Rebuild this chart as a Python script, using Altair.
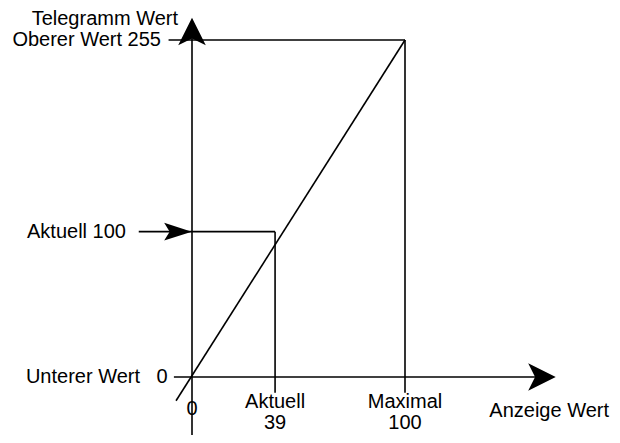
import altair as alt
import pandas as pd

# ---- values read from the schematic ----
# x: Anzeige Wert, y: Telegramm Wert
x_marks = [0, 39, 100]
x_top_labels = ["Aktuell", "Maximal"]
x_bottom_labels = ["39", "100"]

y_levels = [0, 110, 255]          # drawn heights of the levels (0 .. 255 scale)
y_names = ["Unterer Wert", "Aktuell 100", "Oberer Wert 255"]

# straight segments of the drawing: (x, y) -> (x2, y2)
seg_x  = [-11, 100, -25, 39, -8.5, 0, -7.5]
seg_y  = [255, 255, 110, 110, 0, -43.8, -18]
seg_x2 = [100, 100, 39, 39, 164, 0, 100]
seg_y2 = [255, -12, 110, -12, 0, 261, 255]

# arrow heads
arrow_dir = ["right", "up", "pointer"]
arrow_x = [164.3, 0, -6.6]
arrow_y = [0, 261.4, 110]

FONT = "Liberation Sans"
FS = 20

xs = alt.Scale(domain=[-86.385, 197.183], nice=False, zero=False)
ys = alt.Scale(domain=[-43.886, 279.21], nice=False, zero=False)

segs = pd.DataFrame({"x": seg_x, "y": seg_y, "x2": seg_x2, "y2": seg_y2})
rules = alt.Chart(segs).mark_rule(color="black", strokeWidth=1.6).encode(
    x=alt.X("x:Q", scale=xs, axis=None),
    y=alt.Y("y:Q", scale=ys, axis=None),
    x2="x2:Q",
    y2="y2:Q",
)

arrows_df = pd.DataFrame({"dir": arrow_dir, "x": arrow_x, "y": arrow_y})
arrows = alt.Chart(arrows_df).mark_point(filled=True, color="black", opacity=1, size=760, strokeWidth=0).encode(
    x=alt.X("x:Q", scale=xs, axis=None),
    y=alt.Y("y:Q", scale=ys, axis=None),
    shape=alt.Shape(
        "dir:N",
        scale=alt.Scale(
            domain=["right", "up", "pointer"],
            range=[
                "M1,0 L-1,-1 L-0.5,0 L-1,1 Z",
                "M0,-1 L1,1 L0,0.5 L-1,1 Z",
                "M1,0 L-1,-0.65 L-0.6,0 L-1,0.65 Z",
            ],
        ),
        legend=None,
    ),
)

def txt(df, **kw):
    return alt.Chart(df).mark_text(font=FONT, fontSize=FS, color="black", baseline="middle", **kw).encode(
        x=alt.X("x:Q", scale=xs, axis=None),
        y=alt.Y("y:Q", scale=ys, axis=None),
        text="t:N",
    )

# y-side labels
t_title = txt(pd.DataFrame({"x": [0], "y": [y_levels[2]], "t": ["Telegramm Wert"]}), align="right", dx=-14, dy=-21)
t_top = txt(pd.DataFrame({"x": [0], "y": [y_levels[2]], "t": [y_names[2]]}), align="right", dx=-31)
t_akt = txt(pd.DataFrame({"x": [0], "y": [y_levels[1]], "t": [y_names[1]]}), align="right", dx=-66)
t_unt = txt(pd.DataFrame({"x": [0], "y": [y_levels[0]], "t": [y_names[0]]}), align="right", dx=-52)
t_unt0 = txt(pd.DataFrame({"x": [0], "y": [y_levels[0]], "t": ["0"]}), align="center", dx=-30)

# x-side labels
t_x0 = txt(pd.DataFrame({"x": [x_marks[0]], "y": [0], "t": ["0"]}), align="center", dy=32)
t_xtop = txt(pd.DataFrame({"x": x_marks[1:], "y": [0, 0], "t": x_top_labels}), align="center", dy=25)
t_xbot = txt(pd.DataFrame({"x": x_marks[1:], "y": [0, 0], "t": x_bottom_labels}), align="center", dy=46)
t_xtitle = txt(pd.DataFrame({"x": [100], "y": [0], "t": ["Anzeige Wert"]}), align="right", dx=204, dy=34)

chart = alt.layer(
    rules, arrows, t_title, t_top, t_akt, t_unt, t_unt0, t_x0, t_xtop, t_xbot, t_xtitle
).properties(
    width=604, height=427, padding=0, autosize=alt.AutoSizeParams(type="none")
).configure(background="white", view=alt.ViewConfig(stroke=None))

chart.save("out.html", embed_options={"renderer": "svg", "actions": False})
